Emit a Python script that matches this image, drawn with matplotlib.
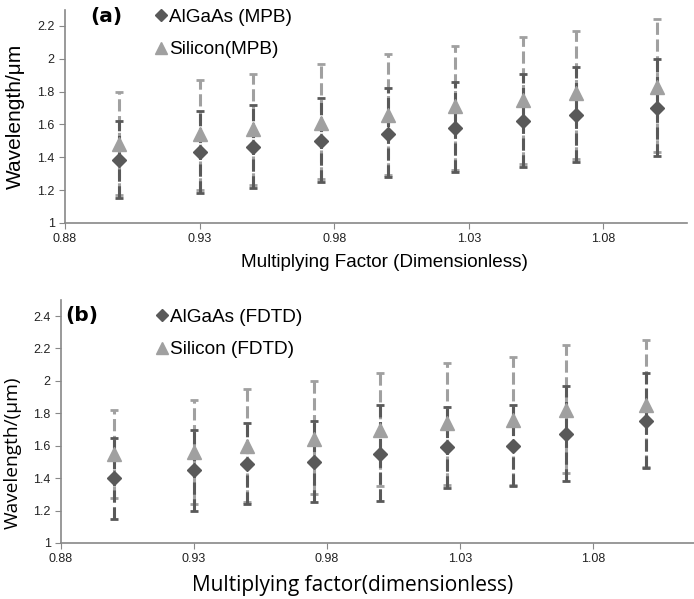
import matplotlib.pyplot as plt
from matplotlib.lines import Line2D

# panel (a) - MPB
x_a = [0.90, 0.93, 0.95, 0.975, 1.00, 1.025, 1.05, 1.07, 1.10]
algaas_a = [1.38, 1.43, 1.46, 1.50, 1.54, 1.58, 1.62, 1.66, 1.70]
algaas_a_hi = [1.62, 1.68, 1.72, 1.76, 1.82, 1.86, 1.91, 1.95, 2.00]
algaas_a_lo = [1.15, 1.18, 1.21, 1.25, 1.28, 1.31, 1.34, 1.37, 1.41]
silicon_a = [1.48, 1.54, 1.57, 1.61, 1.66, 1.71, 1.75, 1.79, 1.83]
silicon_a_hi = [1.80, 1.87, 1.91, 1.97, 2.03, 2.08, 2.13, 2.17, 2.24]
silicon_a_lo = [1.17, 1.20, 1.23, 1.27, 1.29, 1.32, 1.36, 1.39, 1.43]

# panel (b) - FDTD
x_b = [0.90, 0.93, 0.95, 0.975, 1.00, 1.025, 1.05, 1.07, 1.10]
algaas_b = [1.40, 1.45, 1.49, 1.50, 1.55, 1.59, 1.60, 1.67, 1.75]
algaas_b_hi = [1.65, 1.70, 1.74, 1.75, 1.85, 1.84, 1.85, 1.97, 2.05]
algaas_b_lo = [1.15, 1.20, 1.24, 1.25, 1.26, 1.34, 1.35, 1.38, 1.46]
silicon_b = [1.55, 1.56, 1.60, 1.64, 1.70, 1.74, 1.76, 1.82, 1.85]
silicon_b_hi = [1.82, 1.88, 1.95, 2.00, 2.05, 2.11, 2.15, 2.22, 2.25]
silicon_b_lo = [1.28, 1.24, 1.25, 1.30, 1.35, 1.36, 1.36, 1.43, 1.47]

dark = '#595959'
light = '#a0a0a0'
axis_col = '#888888'


def draw(ax, x, y, hi, lo, color, marker, ms):
    err = [[v - l for v, l in zip(y, lo)], [h - v for v, h in zip(y, hi)]]
    c = ax.errorbar(x, y, yerr=err, fmt=marker, color=color, ms=ms,
                    ecolor=color, elinewidth=2.2, capsize=3, capthick=2, zorder=3)
    c[2][0].set_linestyle((0, (4, 1.5)))


def style(ax, ylim, yticks, xmax):
    ax.set_xlim(0.88, xmax)
    ax.set_ylim(*ylim)
    ax.set_xticks([0.88, 0.93, 0.98, 1.03, 1.08])
    ax.set_xticklabels(['0.88', '0.93', '0.98', '1.03', '1.08'])
    ax.set_yticks(yticks)
    ax.set_yticklabels([('%g' % t) for t in yticks])
    for s in ['top', 'right']:
        ax.spines[s].set_visible(False)
    for s in ['left', 'bottom']:
        ax.spines[s].set_color(axis_col)
        ax.spines[s].set_linewidth(1.2)
    ax.tick_params(colors=axis_col, labelcolor='#222222', labelsize=9, length=4)
    for lab in ax.get_xticklabels() + ax.get_yticklabels():
        lab.set_family('Liberation Sans')


fig = plt.figure(figsize=(6.94, 5.99), dpi=100)

ax1 = fig.add_axes([0.0937, 0.628, 0.896, 0.356])
draw(ax1, x_a, silicon_a, silicon_a_hi, silicon_a_lo, light, '^', 9.5)
draw(ax1, x_a, algaas_a, algaas_a_hi, algaas_a_lo, dark, 'D', 7.5)
style(ax1, (1, 2.3), [1, 1.2, 1.4, 1.6, 1.8, 2, 2.2], 1.111)
ax1.set_xlabel('Multiplying Factor (Dimensionless)', fontsize=13.6, family='Liberation Sans', va='center')
ax1.set_ylabel('Wavelength/μm', fontsize=15, family='Liberation Sans', va='center')
ax1.xaxis.set_label_coords(0.513, -0.188)
ax1.yaxis.set_label_coords(-0.080, 0.50)
ax1.text(0.04, 0.967, '(a)', transform=ax1.transAxes, fontsize=14.5, fontweight='bold', va='center')
h1 = [Line2D([], [], ls='', marker='D', color=dark, ms=6.5),
      Line2D([], [], ls='', marker='^', color=light, ms=8.5)]
ax1.legend(h1, ['AlGaAs (MPB)', 'Silicon(MPB)'], loc='upper left', bbox_to_anchor=(0.143, 1.005),
           frameon=False, handlelength=0.7, handletextpad=0.1, labelspacing=0.8,
           borderpad=0, borderaxespad=0,
           prop={'family': 'Liberation Sans', 'size': 13.7})

ax2 = fig.add_axes([0.0879, 0.0935, 0.912, 0.406])
draw(ax2, x_b, silicon_b, silicon_b_hi, silicon_b_lo, light, '^', 9.5)
draw(ax2, x_b, algaas_b, algaas_b_hi, algaas_b_lo, dark, 'D', 7.5)
style(ax2, (1, 2.5), [1, 1.2, 1.4, 1.6, 1.8, 2, 2.2, 2.4], 1.118)
ax2.set_xlabel('Multiplying factor(dimensionless)', fontsize=15, family='Open Sans', va='center')
ax2.set_ylabel('Wavelength/(μm)', fontsize=13.8, family='Open Sans', va='center')
ax2.xaxis.set_label_coords(0.46, -0.173)
ax2.yaxis.set_label_coords(-0.076, 0.37)
ax2.text(0.006, 0.934, '(b)', transform=ax2.transAxes, fontsize=14.5, fontweight='bold', va='center')
h2 = [Line2D([], [], ls='', marker='D', color=dark, ms=6.5),
      Line2D([], [], ls='', marker='^', color=light, ms=8.5)]
ax2.legend(h2, ['AlGaAs (FDTD)', 'Silicon (FDTD)'], loc='upper left', bbox_to_anchor=(0.1485, 0.965),
           frameon=False, handlelength=0.7, handletextpad=0.1, labelspacing=0.8,
           borderpad=0, borderaxespad=0,
           prop={'family': 'Liberation Sans', 'size': 13.7})

fig.savefig('out.png', dpi=100)
